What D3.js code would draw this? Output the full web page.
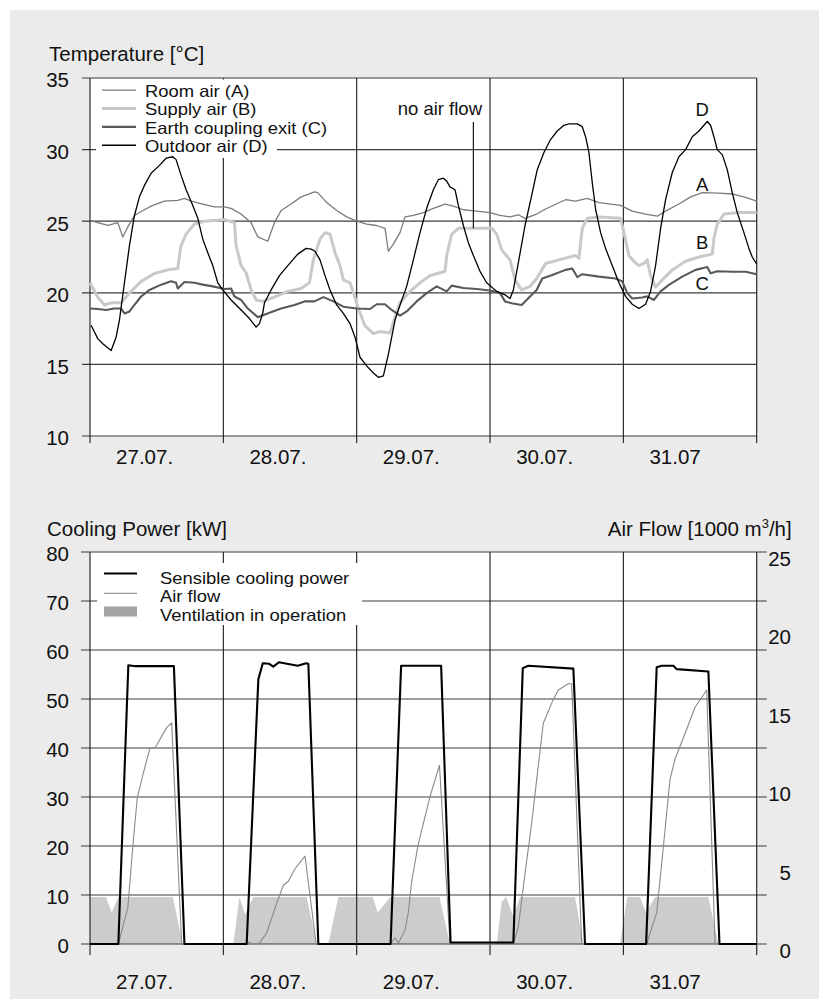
<!DOCTYPE html>
<html><head><meta charset="utf-8">
<script src="https://cdn.jsdelivr.net/npm/d3@7"></script>
<style>
html,body{margin:0;padding:0;background:#fff}
svg{display:block}
text{font-family:"Liberation Sans",Arial,Helvetica,sans-serif;fill:#111}
</style>
</head><body>
<svg id="c" width="819" height="1001"></svg>
<script>
// ---------- data (time in hours from 27.07. 00:00) ----------
const dayLabels = ["27.07.","28.07.","29.07.","30.07.","31.07"];
const dayTicks = [0,24,48,72,96,120];
const tempTicks = [10,15,20,25,30,35];
const powerTicks = [0,10,20,30,40,50,60,70,80];
const flowTicks = [0,5,10,15,20,25];

const roomAir = [[0,25.05],[1.4,24.9],[3.2,24.7],[5.0,24.9],[5.9,23.9],[6.8,24.6],[8.0,25.4],[9.5,25.75],[11.3,26.1],[13.4,26.4],[15.8,26.45],[17.0,26.6],[18.2,26.4],[20.3,26.2],[22.4,26.0],[24.2,26.0],[25.4,25.9],[27.2,25.5],[29.0,24.9],[30.2,23.9],[32.0,23.6],[33.2,24.9],[34.4,25.75],[36.2,26.2],[38.0,26.7],[40.4,27.05],[41.0,27.0],[42.6,26.3],[44.4,25.75],[46.2,25.3],[48,25.0],[49.8,24.8],[51.6,24.7],[53.1,24.5],[53.7,22.9],[54.6,23.4],[55.8,24.2],[56.7,25.3],[58.2,25.4],[60.0,25.6],[61.8,25.9],[63.9,26.2],[65.4,26.06],[67.2,25.8],[69.6,25.7],[72.0,25.6],[73.8,25.4],[75.6,25.3],[77.1,25.45],[78.3,25.2],[80.4,25.5],[82,25.85],[85.6,26.5],[87.4,26.4],[89.5,26.6],[91.6,26.3],[95.5,26.1],[97.6,25.7],[100,25.5],[102.1,25.35],[103.6,25.7],[106,26.2],[108.1,26.7],[110.2,27.0],[113.2,26.96],[115.6,26.9],[118,26.66],[120,26.4]];

const supplyAir = [[0,20.7],[1.4,19.7],[2.6,19.15],[3.8,19.3],[5.6,19.3],[7.4,20.1],[9.2,20.8],[11.6,21.35],[14.0,21.6],[15.8,21.7],[16.1,22.6],[16.4,23.3],[17.3,24.1],[18.8,24.8],[20.6,25.0],[24.2,25.1],[26.0,24.9],[26.3,23.3],[27.2,21.9],[28.1,21.4],[29.0,20.2],[29.9,19.5],[31.1,19.4],[33.2,19.7],[35.6,20.1],[38.0,20.3],[39.5,20.7],[40.2,22.3],[41.4,23.75],[42.3,24.2],[43.2,24.1],[44.1,22.8],[45.0,21.9],[45.6,20.9],[46.8,20.7],[47.4,20.0],[48.3,18.9],[49.5,17.7],[51.0,17.15],[52.2,17.3],[54.0,17.2],[54.9,18.3],[55.8,19.3],[57.6,20.1],[59.4,20.7],[61.2,21.2],[63.0,21.4],[63.9,21.5],[64.2,22.6],[65.1,24.1],[66.3,24.5],[72.3,24.5],[73.2,24.1],[74.1,23.0],[75.6,22.3],[76.5,20.9],[77.7,20.2],[79.2,20.45],[80.4,21.0],[82,22.05],[84.4,22.3],[87.4,22.6],[88,22.4],[88.6,24.5],[89.5,25.2],[91.6,25.3],[95.5,25.2],[96.1,24.2],[97,22.6],[97.9,22.2],[98.8,21.9],[99.7,22.05],[100.3,22.3],[100.9,21.2],[101.8,20.4],[103,20.9],[104.8,21.6],[107.2,22.2],[109.6,22.5],[112,22.7],[112.3,23.8],[112.9,24.8],[114.1,25.5],[116.8,25.6],[120,25.6]];

const earthExit = [[0,18.9],[1.4,18.87],[2.9,18.8],[4.4,18.9],[5.6,18.9],[6.2,18.56],[7.1,18.7],[8.0,19.15],[9.2,19.74],[10.7,20.2],[12.8,20.57],[14.6,20.8],[15.5,20.7],[15.8,20.3],[17.0,20.75],[18.8,20.7],[20.3,20.57],[22.1,20.45],[24.2,20.26],[25.4,20.3],[26.0,19.74],[27.2,19.5],[28.4,18.9],[30.2,18.3],[32.3,18.6],[34.4,18.9],[36.8,19.15],[38.6,19.4],[40.4,19.4],[42,19.7],[43.8,19.4],[45.6,19.03],[48,18.9],[50.4,18.87],[51.6,19.2],[53.1,19.2],[54.3,18.8],[55.8,18.4],[57,18.7],[58.8,19.4],[60.6,19.98],[62.4,20.45],[64.2,20.1],[65.1,20.5],[67.2,20.33],[69.6,20.26],[72,20.16],[73.8,19.98],[74.7,19.4],[75.9,19.27],[77.7,19.15],[79.2,19.74],[80.4,20.2],[81.4,21.0],[83.2,21.24],[85.6,21.6],[86.8,21.7],[87.7,21.1],[88.6,21.3],[91.6,21.13],[94.6,21.0],[95.8,20.8],[96.7,19.98],[97.6,19.6],[99.4,19.67],[100.3,19.75],[101.5,19.5],[102.7,20.1],[104.2,20.55],[106.6,21.13],[109,21.6],[111.1,21.8],[111.7,21.36],[112.9,21.5],[115.6,21.47],[118,21.47],[120,21.3]];

const outdoorAir = [[0.2,17.74],[0.8,17.26],[1.4,16.8],[2.3,16.44],[3.8,15.97],[4.7,16.9],[5.3,18.1],[6.2,20.7],[7.1,23.3],[8.0,25.4],[8.9,26.7],[9.8,27.5],[11.0,28.35],[12.5,28.9],[13.7,29.4],[14.9,29.5],[15.5,29.3],[16.4,28.2],[17.3,27.2],[18.5,26.1],[19.4,25.2],[20.3,23.75],[21.2,22.8],[22.1,21.9],[23.0,20.7],[23.9,20.2],[25.4,19.5],[27.2,18.8],[28.7,18.2],[29.9,17.6],[30.5,17.85],[31.1,18.6],[31.4,19.3],[32.6,20.2],[34.1,21.2],[35.6,21.9],[37.4,22.7],[38.9,23.1],[39.8,23.05],[40.5,22.9],[41.4,22.3],[42.3,21.2],[43.2,20.2],[44.4,19.15],[45.6,18.56],[46.8,17.85],[47.7,16.9],[48.6,15.5],[49.8,14.9],[51.0,14.4],[51.9,14.1],[52.8,14.2],[53.7,15.7],[54.9,18.1],[55.8,19.15],[57.0,20.45],[58.2,22.3],[59.4,24.2],[60.6,25.9],[61.8,27.2],[62.7,27.9],[63.6,28.0],[64.2,27.8],[64.8,27.4],[65.7,27.2],[66.3,26.1],[67.2,24.7],[68.1,23.5],[69.0,22.6],[70.2,21.5],[71.4,20.7],[73.2,20.1],[74.7,19.86],[75.6,19.6],[76.2,20.2],[77.1,22.1],[78.3,24.7],[79.5,26.8],[80.5,28.6],[81.7,29.8],[82.9,30.7],[84.1,31.3],[85.3,31.7],[86.2,31.8],[87.7,31.8],[88.6,31.6],[89.2,30.9],[89.8,29.8],[90.4,27.7],[91.0,25.85],[91.9,24.2],[92.8,23.1],[94.0,21.9],[95.2,20.7],[96.4,19.75],[97.6,19.2],[98.8,18.9],[100.0,19.2],[100.9,20.1],[101.8,21.9],[102.7,24.5],[103.6,26.5],[104.8,28.4],[106.0,29.5],[107.2,30.0],[108.4,30.9],[109.6,31.3],[110.5,31.7],[111.1,31.96],[111.7,31.7],[112.3,30.9],[112.9,30.0],[113.8,29.65],[114.7,28.6],[115.6,27.0],[116.5,25.6],[117.7,24.2],[118.6,23.1],[119.2,22.5],[120,22.0]];

// sensible cooling power [kW]
const coolingPower = [[0,0],[5.1,0],[6.9,56.9],[7.5,56.8],[8.2,56.7],[15.1,56.7],[17.0,0],[28.2,0],[30.3,54],[31.1,57.3],[32.2,57.2],[33.0,56.6],[34.0,57.5],[37.4,56.8],[38.9,57.3],[39.3,57.2],[41.1,0],[54.1,0],[56.0,56.8],[63.2,56.8],[64.9,0.3],[76.2,0.3],[77.9,56.3],[78.9,56.8],[87.0,56.2],[89.1,0],[100.1,0],[102.0,56.5],[102.9,56.8],[105.0,56.8],[105.6,56.1],[111.3,55.6],[113.3,0],[120,0]];

// air flow [1000 m3/h]
const airFlow = [[0,0],[5.1,0],[6.8,2.3],[7.8,6.6],[8.5,9.3],[9.6,10.9],[10.8,12.5],[11.7,12.5],[13.8,13.8],[14.7,14.1],[16.5,0],[28.0,0],[28.2,0.15],[29.4,0],[30.5,0.06],[31.8,0.7],[33.6,2.6],[34.8,3.75],[35.7,4.0],[36.9,4.8],[38.7,5.6],[40.7,0],[54.1,0],[54.9,0.4],[55.5,0.06],[56.7,0.9],[57.3,2.0],[57.9,4.0],[59.1,6.4],[61.2,9.4],[62.9,11.4],[64.8,0],[76.2,0],[77.1,1.1],[78.3,4.5],[79.5,7.7],[80.4,10.5],[81.6,14.1],[83.4,15.6],[84.3,16.2],[86.1,16.6],[86.7,16.6],[88.5,0],[100.2,0],[102,2.0],[103.2,6.2],[104.4,10.5],[105.3,11.8],[107.4,13.7],[108.9,15.1],[111,16.2],[112.5,0],[120,0]];

// ventilation in operation (indicator band, right-axis units)
const ventilation = [[0,3.0],[2.9,3.0],[3.9,2.0],[5.1,3.0],[14.9,3.0],[16.7,0],[25.8,0],[26.9,3.0],[27.9,1.9],[29.4,3.0],[39.0,3.0],[40.8,0],[42.9,0],[44.7,3.0],[50.9,3.0],[51.8,2.0],[54.0,3.0],[62.9,3.0],[64.8,0],[73.2,0],[74.1,2.7],[74.9,3.0],[76.2,1.75],[77.4,3.0],[87.3,3.0],[88.8,0],[95.4,0],[96.7,3.0],[99.0,3.0],[100.1,2.0],[101.7,3.0],[111.3,3.0],[113.1,0],[120,0]];

// ---------- drawing ----------
const svg = d3.select("#c");
svg.append("rect").attr("x",10).attr("y",10).attr("width",809).attr("height",989).attr("fill","#ebebeb");

const X0 = 90, X1 = 756.7;
const x = d3.scaleLinear().domain([0,120]).range([X0,X1]);
const yT = d3.scaleLinear().domain([10,35]).range([436,78]);
const yP = d3.scaleLinear().domain([0,80]).range([944,552]);
const yF = d3.scaleLinear().domain([0,25]).range([944,552]);

const FS = "20.5px", LFS = "18.5px";
const gridH = "#3c3c3c", gridV = "#1a1a1a";

// legend text: compact line height, stretched horizontally to the reference width
function legendText(g, tx, ty, s){
  g.append("text").attr("transform",`translate(${tx},${ty}) scale(1.13,1)`)
    .style("font-size","16.3px").text(s);
}

// ===== Top chart =====
const gT = svg.append("g");
gT.append("rect").attr("x",X0).attr("y",yT(35)).attr("width",X1-X0).attr("height",yT(10)-yT(35)).attr("fill","#fff");
gT.append("text").attr("x",49).attr("y",61).style("font-size",FS).text("Temperature [°C]");

tempTicks.forEach(v=>{
  gT.append("line").attr("x1",X0-8).attr("x2",X1).attr("y1",yT(v)).attr("y2",yT(v))
    .attr("stroke",gridH).attr("stroke-width",1.2);
  gT.append("text").attr("x",69).attr("y",yT(v)+9.3).attr("text-anchor","end").style("font-size",FS).text(v);
});
dayTicks.forEach(d=>{
  gT.append("line").attr("x1",x(d)).attr("x2",x(d)).attr("y1",yT(35)).attr("y2",yT(10)+7)
    .attr("stroke",gridV).attr("stroke-width",1.1);
});
dayLabels.forEach((s,i)=>{
  gT.append("text").attr("x",x(i*24+4.7)).attr("y",464).style("font-size",FS).text(s);
});

// legend box
gT.append("rect").attr("x",96).attr("y",79.5).attr("width",181).attr("height",78.5).attr("fill","#fff");
const tempSeries = [
  {name:"Room air (A)", data:roomAir, color:"#7b7b7b", w:1.3},
  {name:"Supply air (B)", data:supplyAir, color:"#c9c9c9", w:3},
  {name:"Earth coupling exit (C)", data:earthExit, color:"#595959", w:2.1},
  {name:"Outdoor air (D)", data:outdoorAir, color:"#000", w:1.3}
];
const legStep = 18.35, legTop = 97;
tempSeries.forEach((s,i)=>{
  const yb = legTop+i*legStep;
  gT.append("line").attr("x1",102).attr("x2",136).attr("y1",yb-6.8).attr("y2",yb-6.8)
    .attr("stroke",s.color).attr("stroke-width",s.w);
  legendText(gT,145,yb,s.name);
});

const lineT = d3.line().x(d=>x(d[0])).y(d=>yT(d[1]));
[1,2,0,3].forEach(i=>{
  const s = tempSeries[i];
  gT.append("path").attr("d",lineT(s.data)).attr("fill","none").attr("stroke",s.color)
    .attr("stroke-width",s.w).attr("stroke-linejoin","round");
});

// annotations
gT.append("text").attr("x",482).attr("y",115).attr("text-anchor","end").style("font-size",LFS).text("no air flow");
gT.append("line").attr("x1",x(69)).attr("x2",x(69)).attr("y1",122).attr("y2",yT(24.5)).attr("stroke","#000").attr("stroke-width",1.1);
[["D",32.36],["A",27.1],["B",23.06],["C",20.2]].forEach(([t,v])=>{
  gT.append("text").attr("x",x(110.2)).attr("y",yT(v)).attr("text-anchor","middle").style("font-size",LFS).text(t);
});

// ===== Bottom chart =====
const gB = svg.append("g");
gB.append("rect").attr("x",X0).attr("y",yP(80)).attr("width",X1-X0).attr("height",yP(0)-yP(80)).attr("fill","#fff");
gB.append("text").attr("x",47).attr("y",536).style("font-size",FS).text("Cooling Power [kW]");
const af = gB.append("text").attr("x",791.7).attr("y",536).attr("text-anchor","end").style("font-size",FS);
af.append("tspan").text("Air Flow [1000 m");
af.append("tspan").attr("dy",-8).style("font-size","13px").text("3");
af.append("tspan").attr("dy",8).text("/h]");

const area = d3.area().x(d=>x(d[0])).y0(yF(0)).y1(d=>yF(d[1]));
gB.append("path").attr("d",area(ventilation)).attr("fill","#cccccc");

powerTicks.forEach(v=>{
  gB.append("line").attr("x1",X0-9).attr("x2",X1+10).attr("y1",yP(v)).attr("y2",yP(v))
    .attr("stroke",gridH).attr("stroke-width",1.2);
  gB.append("text").attr("x",69).attr("y",yP(v)+9.3).attr("text-anchor","end").style("font-size",FS).text(v);
});
flowTicks.forEach(v=>{
  gB.append("text").attr("x",791).attr("y",yF(v)+14).attr("text-anchor","end").style("font-size",FS).text(v);
});
dayTicks.forEach(d=>{
  gB.append("line").attr("x1",x(d)).attr("x2",x(d)).attr("y1",yP(80)).attr("y2",yP(0)+11)
    .attr("stroke",gridV).attr("stroke-width",1.1);
});
dayLabels.forEach((s,i)=>{
  gB.append("text").attr("x",x(i*24+4.7)).attr("y",989).style("font-size",FS).text(s);
});

gB.append("path").attr("d",d3.line().x(d=>x(d[0])).y(d=>yF(d[1]))(airFlow))
  .attr("fill","none").attr("stroke","#8a8a8a").attr("stroke-width",1.1).attr("stroke-linejoin","round");
gB.append("path").attr("d",d3.line().x(d=>x(d[0])).y(d=>yP(d[1]))(coolingPower))
  .attr("fill","none").attr("stroke","#000").attr("stroke-width",2.1).attr("stroke-linejoin","round");

// legend
gB.append("rect").attr("x",97).attr("y",563).attr("width",265).attr("height",62).attr("fill","#fff");
gB.append("line").attr("x1",104).attr("x2",137).attr("y1",573.5).attr("y2",573.5).attr("stroke","#000").attr("stroke-width",2.2);
gB.append("line").attr("x1",104).attr("x2",137).attr("y1",593.3).attr("y2",593.3).attr("stroke","#999").attr("stroke-width",1.2);
gB.append("rect").attr("x",104).attr("y",606.5).attr("width",33).attr("height",10).attr("fill","#a3a3a3");
[["Sensible cooling power",584],["Air flow",602.4],["Ventilation in operation",620.8]].forEach(([t,yb])=>{
  legendText(gB,160,yb,t);
});
</script>
</body></html>
